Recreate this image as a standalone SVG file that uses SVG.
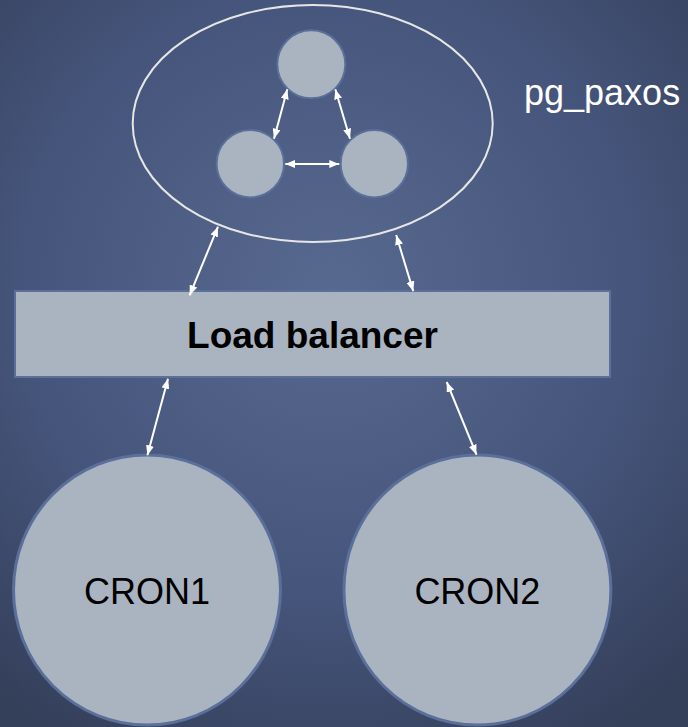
<svg xmlns="http://www.w3.org/2000/svg" width="688" height="727" viewBox="0 0 688 727">
<defs>
<radialGradient id="bg" cx="330" cy="290" r="520" gradientUnits="userSpaceOnUse">
<stop offset="0" stop-color="#586990"/>
<stop offset="0.6" stop-color="#45547a"/>
<stop offset="1" stop-color="#343f5a"/>
</radialGradient>
<marker id="ah" viewBox="0 0 10 8" refX="10" refY="4" markerWidth="10" markerHeight="8" markerUnits="userSpaceOnUse" orient="auto-start-reverse">
<path d="M0,0 L10,4 L0,8 Z" fill="#ffffff"/>
</marker>
</defs>
<style>
.node{fill:#aab3c0;stroke:#5a6f9a;stroke-width:2}
.big{fill:#aab3c0;stroke:#5a6f9a;stroke-width:3}
.conn line{stroke:#ffffff;stroke-width:2;marker-start:url(#ah);marker-end:url(#ah)}
.lbl{font-family:"Liberation Sans",Arial,sans-serif;font-size:36px;text-anchor:middle;fill:#000}
</style>
<rect x="0" y="0" width="688" height="727" fill="url(#bg)"/>
<g id="cluster">
<ellipse cx="312.7" cy="123.5" rx="180" ry="118.5" fill="none" stroke="#e6e6e6" stroke-width="2"/>
</g>
<g id="paxos-top"><circle class="node" cx="311.3" cy="64.3" r="34"/></g>
<g id="paxos-left"><circle class="node" cx="250.3" cy="163.7" r="33.7"/></g>
<g id="paxos-right"><circle class="node" cx="374.3" cy="163.7" r="33.7"/></g>
<g id="pg-label"><text x="524" y="105" font-family="Liberation Sans, Arial, sans-serif" font-size="36" fill="#ffffff">pg_paxos</text></g>
<g id="lb">
<rect class="node" x="15" y="291" width="595" height="86"/>
<text class="lbl" x="312.5" y="348" font-weight="bold" font-size="37" style="font-size:37px">Load balancer</text>
</g>
<g id="cron1">
<ellipse class="big" cx="147" cy="590" rx="133.5" ry="135"/>
<text class="lbl" x="147" y="604">CRON1</text>
</g>
<g id="cron2">
<ellipse class="big" cx="477.4" cy="590" rx="133.5" ry="135"/>
<text class="lbl" x="477.4" y="604">CRON2</text>
</g>
<g id="connectors" class="conn">
<line x1="287.3" y1="89.3" x2="274" y2="138.7"/>
<line x1="335.3" y1="89.3" x2="350" y2="138.7"/>
<line x1="285.3" y1="164" x2="339.3" y2="164"/>
<line x1="218" y1="226.7" x2="189.6" y2="295.3"/>
<line x1="396.2" y1="235" x2="413.3" y2="291.3"/>
<line x1="168" y1="378.7" x2="147.4" y2="455.3"/>
<line x1="446.7" y1="382" x2="476.5" y2="454.7"/>
</g>
</svg>
